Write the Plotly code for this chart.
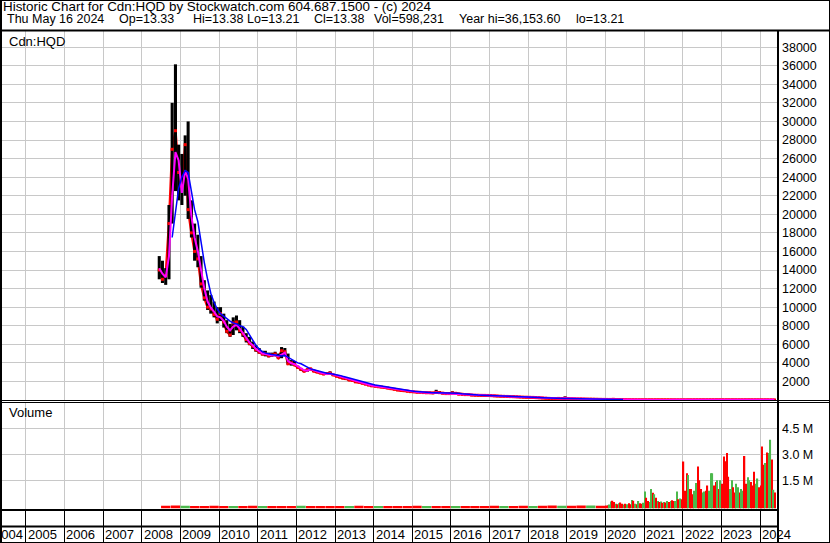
import pandas as pd
import plotly.graph_objects as go

W, H = 830, 543
FONT = "Liberation Sans, Arial, sans-serif"

# ---- monthly price bars, Jun 2008 .. May 2024 ----
high = (
    [15500, 15000, 14200, 21000, 32000, 36150, 27500]  # 2008
    + [26500, 28500, 30000, 21500, 19000, 17800, 15500, 12900, 11800, 11300, 10600, 10000]
    + [10000, 9300, 8600, 8200, 8900, 9100, 8600, 7900, 7200, 6800, 6300, 5900]
    + [5600, 5300, 5300, 5100, 5100, 5200, 5000, 5700, 5600, 5000, 4300, 4200]
    + [3700, 3400, 3200, 3400, 3450, 3250, 3080, 2960, 2870, 2930, 3080, 2800]
    + [2620, 2500, 2400, 2380, 2260, 2160, 2020, 1950, 1860, 1760, 1650, 1570]
    + [1520, 1470, 1440, 1390, 1340, 1260, 1190, 1110, 1060, 1060, 970, 930]
    + [910, 870, 850, 820, 800, 800, 780, 1100, 880, 770, 710, 710]
    + [930, 850, 660, 615, 595, 620, 550, 525, 520, 510, 510, 500]
    + [490, 465, 440, 420, 405, 395, 375, 362, 352, 335, 318, 306]
    + [298, 300, 275, 258, 235, 205, 182, 162, 150, 200, 180, 390]
    + [165, 135, 120, 110, 122, 108, 97, 102, 95, 88, 77, 70]
    + [68, 70, 95, 75, 52, 44, 38, 31, 33, 30, 25, 22]
    + [21, 20, 19, 18, 17, 16, 15, 14, 15, 14, 12, 12]
    + [14, 16, 16, 19, 22, 21, 19, 19, 23, 23, 21, 21]
    + [23, 22, 21, 19, 18, 17, 17, 18, 18, 19, 18, 16]
    + [16, 15.5, 15, 15, 14.2]  # 2024
)
low = (
    [13000, 12600, 12400, 13000, 19000, 22500, 21500]
    + [21000, 22000, 19500, 17500, 15000, 14300, 12100, 10700, 9700, 9300, 8900, 8250]
    + [8500, 7800, 7200, 6800, 7000, 7500, 7200, 6800, 6200, 5900, 5500, 5200]
    + [5000, 4800, 4700, 4600, 4650, 4700, 4450, 4500, 4700, 3800, 3700, 3650]
    + [3400, 3230, 3050, 3050, 3200, 3050, 2950, 2850, 2760, 2760, 2800, 2650]
    + [2520, 2420, 2320, 2260, 2120, 2060, 1920, 1870, 1770, 1670, 1570, 1500]
    + [1460, 1410, 1380, 1330, 1280, 1200, 1130, 1050, 1000, 980, 920, 880]
    + [860, 825, 815, 785, 765, 765, 745, 750, 770, 705, 675, 675]
    + [700, 680, 605, 590, 570, 565, 520, 508, 502, 492, 486, 482]
    + [472, 448, 424, 404, 388, 378, 358, 348, 338, 318, 304, 294]
    + [284, 272, 258, 243, 218, 188, 168, 150, 140, 148, 152, 165]
    + [142, 120, 110, 100, 106, 96, 89, 90, 86, 78, 69, 63]
    + [58, 55, 58, 50, 42, 36, 29, 25, 26, 23, 20, 18]
    + [18, 17, 16, 16, 15, 14, 13, 12, 12, 11, 10, 10]
    + [11, 13, 13, 14, 17, 17, 16, 16, 17, 19, 18, 18]
    + [20, 19, 18, 17, 16, 15, 15, 16, 16, 16, 15, 14]
    + [14.3, 13.9, 13.5, 13.6, 13.21]
)
close = (
    [14000, 13000, 13400, 19000, 27000, 29000, 24500]
    + [23000, 27500, 20500, 18000, 16000, 15200, 12500, 11000, 10000, 9800, 9200, 8700]
    + [9300, 8400, 7400, 7000, 8300, 8400, 7500, 7100, 6500, 6100, 5800, 5400]
    + [5150, 4950, 4950, 4750, 4850, 4950, 4550, 5300, 5200, 3900, 4000, 3800]
    + [3500, 3300, 3100, 3250, 3350, 3100, 3000, 2900, 2800, 2850, 2900, 2700]
    + [2550, 2450, 2350, 2300, 2150, 2100, 1950, 1900, 1800, 1700, 1600, 1520]
    + [1480, 1430, 1400, 1350, 1300, 1220, 1150, 1070, 1020, 1000, 940, 900]
    + [880, 840, 830, 800, 780, 780, 760, 820, 790, 720, 690, 690]
    + [760, 720, 620, 600, 580, 580, 530, 515, 510, 500, 495, 490]
    + [480, 455, 430, 410, 395, 385, 365, 355, 345, 325, 310, 300]
    + [290, 280, 265, 250, 225, 195, 175, 155, 145, 170, 160, 190]
    + [150, 125, 115, 105, 115, 100, 92, 96, 90, 82, 72, 66]
    + [62, 60, 75, 55, 45, 40, 33, 27, 29, 26, 22, 20]
    + [19, 18, 17, 17, 16, 15, 14, 13, 14, 12, 11, 11]
    + [13, 15, 14, 18, 20, 19, 17, 17, 22, 21, 19, 20]
    + [22, 21, 19, 18, 17, 16, 16, 17, 17, 18, 16, 15]
    + [15, 14.5, 14, 14.5, 13.38]
)
ma_short = (
    [14200, 13600, 13200, 15500, 22000, 26700, 25800]
    + [22300, 24700, 23800, 19800, 17500, 16000, 14000, 12000, 10600, 9950, 9500, 9000]
    + [8900, 8500, 7900, 7500, 7900, 8100, 7700, 7200, 6600, 6200, 5900, 5500]
    + [5250, 5000, 4950, 4850, 4800, 4850, 4700, 4900, 5100, 4200, 3950, 3850]
    + [3600, 3400, 3200, 3150, 3300, 3200, 3050, 2950, 2850, 2800, 2850, 2750]
    + [2600, 2500, 2400, 2320, 2220, 2120, 2020, 1920, 1850, 1750, 1650, 1560]
    + [1500, 1450, 1410, 1370, 1320, 1250, 1180, 1100, 1040, 1010, 960, 920]
    + [890, 850, 835, 810, 790, 785, 765, 800, 800, 740, 700, 695]
    + [730, 730, 650, 610, 590, 585, 545, 520, 512, 505, 498, 492]
    + [485, 462, 440, 418, 400, 388, 370, 358, 348, 330, 315, 305]
    + [295, 285, 270, 255, 232, 205, 182, 162, 150, 162, 162, 180]
    + [160, 132, 118, 108, 112, 103, 94, 95, 91, 84, 74, 67]
    + [64, 61, 70, 60, 48, 42, 35, 29, 29, 27, 23, 21]
    + [19, 18, 17, 17, 16, 15, 14, 13, 14, 12, 11, 11]
    + [13, 14, 14, 17, 19, 19, 17, 17, 21, 21, 19, 20]
    + [22, 21, 19, 18, 17, 16, 16, 17, 17, 18, 16, 15]
    + [15, 14.5, 14, 14.5, 13.5]
)
ma_long = (
    [None, None, None, None, 17500, 20500, 22800]
    + [24000, 24700, 24500, 22500, 20500, 19200, 17000, 14800, 13000, 11500, 10500, 9800]
    + [9300, 9000, 8800, 8500, 8300, 8200, 8000, 7900, 7600, 7000, 6400, 5900]
    + [5500, 5200, 5050, 4950, 4900, 4850, 4800, 4750, 4800, 4600, 4450, 4200]
    + [4000, 3900, 3700, 3500, 3350, 3250, 3150, 3050, 2950, 2880, 2850, 2800]
    + [2750, 2650, 2550, 2450, 2380, 2300, 2200, 2100, 2000, 1900, 1800, 1700]
    + [1620, 1560, 1500, 1450, 1400, 1350, 1290, 1220, 1150, 1090, 1040, 990]
    + [950, 910, 870, 840, 820, 800, 790, 790, 790, 770, 740, 720]
    + [720, 740, 720, 680, 640, 610, 580, 560, 540, 520, 510, 500]
    + [495, 480, 460, 440, 420, 405, 390, 375, 360, 345, 330, 318]
    + [308, 298, 285, 272, 255, 235, 212, 190, 172, 165, 163, 170]
    + [172, 160, 140, 125, 115, 108, 102, 98, 95, 90, 82, 74]
    + [70, 65, 66, 63, 56, 48, None, None, None, None, None, None]
    + [None] * 41
)

# ---- volume (millions): quarterly 2008Q3..2019Q4, semi-monthly 2020..May 2024 ----
vol_early = [0.03, 0.04, 0.03, 0.02, 0.02, 0.03, 0.02, 0.02, 0.02, 0.03,
             0.02, 0.02, 0.02, 0.02, 0.03, 0.02, 0.02, 0.02, 0.02, 0.02,
             0.03, 0.02, 0.02, 0.02, 0.02, 0.02, 0.03, 0.02, 0.02, 0.02,
             0.02, 0.02, 0.02, 0.02, 0.03, 0.02, 0.02, 0.03, 0.02, 0.03,
             0.04, 0.03, 0.03, 0.04, 0.04, 0.03]
dir_early = "ddud dddu ddud ddud dddu ddud dddu ddud dddu ddud dudd ud"

vol_recent = (
    [0.05, 0.06, 0.10, 0.28, 0.32, 0.25, 0.15, 0.12, 0.18, 0.22, 0.14, 0.10,
     0.15, 0.12, 0.18, 0.12, 0.37, 0.32, 0.15, 0.12, 0.30, 0.18, 0.15, 0.20]  # 2020
    + [0.85, 0.50, 0.30, 0.25, 1.00, 0.78, 0.70, 0.50, 0.30, 0.25, 0.28, 0.20,
       0.25, 0.22, 0.30, 0.25, 0.30, 0.35, 0.30, 0.30, 0.85, 0.40, 0.45, 0.40]  # 2021
    + [2.58, 0.90, 1.90, 1.80, 1.00, 1.00, 0.70, 0.90, 1.35, 2.30, 1.50, 1.00,
       0.80, 0.85, 0.90, 1.20, 0.90, 1.90, 1.90, 1.20, 1.40, 1.50, 1.00, 1.50]  # 2022
    + [1.30, 2.87, 2.60, 3.07, 1.70, 1.00, 1.50, 1.10, 0.80, 1.30, 1.10, 0.80,
       1.00, 0.90, 2.90, 1.30, 1.68, 1.50, 1.40, 1.20, 2.00, 1.30, 1.60, 1.10]  # 2023
    + [1.20, 3.45, 2.40, 2.50, 3.10, 3.07, 3.84, 2.70, 0.95, 0.80]  # 2024
)
dir_recent = ("dduu ddud uddu dudd udud uddu"
              "uddu udud udud udud uddu udud"
              "dddu dddu uddd uudd uuud dudu"
              "dddd duud duud uudd uudd duud"
              "dddu duud ud")

price_ticks = list(range(2000, 38001, 2000))
vol_ticks = [1.5e6, 3.0e6, 4.5e6]
vol_tick_text = ["1.5 M", "3.0 M", "4.5 M"]
years = list(range(2004, 2025))

months = pd.date_range("2008-06-01", periods=len(close), freq="MS") + pd.Timedelta(days=14)
q_dates = pd.date_range("2008-07-01", periods=len(vol_early), freq="QS") + pd.Timedelta(days=45)
sm_dates = pd.date_range("2020-01-01", periods=len(vol_recent), freq="SMS") + pd.Timedelta(days=7)

DAY = 86400000
GREEN, RED = "#4cb84c", "#ff0000"
col = {"u": GREEN, "d": RED}
VBASE = -0.11e6  # bars stand on the panel floor


def px_y(p):
    return 1 - p / H


def px_x(p):
    return p / W


fig = go.Figure()

# price high-low bars
fig.add_trace(go.Bar(
    x=months, y=[h - l for h, l in zip(high, low)], base=low,
    width=29 * DAY, marker=dict(color="black", line=dict(width=0)),
    xaxis="x", yaxis="y", zorder=0))
# close line and ticks
fig.add_trace(go.Scatter(
    x=months, y=close, mode="lines", line=dict(color=RED, width=2.5),
    xaxis="x", yaxis="y", zorder=-1))
fig.add_trace(go.Scatter(
    x=months, y=close, mode="markers",
    marker=dict(symbol="square", size=3, color=RED, line=dict(width=0)),
    xaxis="x", yaxis="y", zorder=1))
fig.add_trace(go.Scatter(
    x=months, y=ma_short, mode="lines", line=dict(color="#ff00ff", width=2),
    xaxis="x", yaxis="y", zorder=2))
fig.add_trace(go.Scatter(
    x=months, y=ma_long, mode="lines", line=dict(color="#0000ff", width=1.5),
    connectgaps=False, xaxis="x", yaxis="y", zorder=3))

# volume
d_early = dir_early.replace(" ", "")
d_recent = dir_recent.replace(" ", "")
fig.add_trace(go.Bar(
    x=q_dates, y=[v * 1e6 - VBASE for v in vol_early], base=VBASE,
    width=88 * DAY, marker=dict(color=[col[c] for c in d_early], line=dict(width=0)),
    xaxis="x2", yaxis="y2"))
fig.add_trace(go.Bar(
    x=sm_dates, y=[v * 1e6 - VBASE for v in vol_recent], base=VBASE,
    width=12 * DAY, marker=dict(color=[col[c] for c in d_recent], line=dict(width=0)),
    xaxis="x2", yaxis="y2"))

grid = "#c8c8c8"
xcommon = dict(
    type="date", range=["2004-05-02", "2024-06-09"], domain=[0, px_x(777)],
    showgrid=True, gridcolor=grid, gridwidth=1, dtick="M12", tick0="2005-01-01",
    showticklabels=False, zeroline=False, showline=False, fixedrange=True)
tickfont = dict(family=FONT, size=12.5, color="black")

fig.update_layout(
    width=W, height=H, margin=dict(l=0, r=0, t=0, b=0),
    paper_bgcolor="white", plot_bgcolor="white", showlegend=False,
    barmode="overlay",
    xaxis=dict(**xcommon, anchor="y", ticks=""),
    xaxis2=dict(**xcommon, anchor="y2", matches="x",
                ticks="outside", ticklen=33, tickwidth=1, tickcolor="black"),
    yaxis=dict(domain=[px_y(400), px_y(31)], range=[0, 39740], side="right",
               tickvals=price_ticks, ticktext=[str(v) for v in price_ticks],
               tickfont=tickfont, showgrid=True, gridcolor=grid, gridwidth=1,
               zeroline=False, ticks="", ticklabelstandoff=4, anchor="x"),
    yaxis2=dict(domain=[px_y(509.5), px_y(403)], range=[-0.185e6, 5.96e6], side="right",
                tickvals=vol_ticks, ticktext=vol_tick_text, tickfont=tickfont,
                showgrid=True, gridcolor=grid, gridwidth=1,
                zeroline=False, ticks="", ticklabelstandoff=4, anchor="x2"),
)

# frame lines
def hline(y, x0, x1, w):
    fig.add_shape(type="line", xref="paper", yref="paper",
                  x0=px_x(x0), x1=px_x(x1), y0=px_y(y), y1=px_y(y),
                  line=dict(color="black", width=w))


def vline(x, y0, y1, w):
    fig.add_shape(type="line", xref="paper", yref="paper",
                  x0=px_x(x), x1=px_x(x), y0=px_y(y0), y1=px_y(y1),
                  line=dict(color="black", width=w))


hline(0.5, 0, W, 1)
hline(30.5, 0, W, 2)
hline(400.5, 0, W, 1)
hline(402.5, 0, W, 1)
hline(510, 0, 778, 2)
hline(526.5, 0, 778, 2)
hline(542.5, 0, W, 1)
vline(1, 0, H, 2)
vline(829.5, 0, H, 1)
vline(778, 31, H, 2)

# header text
fig.add_annotation(text="Historic Chart for Cdn:HQD by Stockwatch.com 604.687.1500 - (c) 2024",
                   xref="paper", yref="paper", x=px_x(1), y=px_y(7),
                   xanchor="left", yanchor="middle", showarrow=False,
                   font=dict(family=FONT, size=13.4, color="black"))
hdr = dict(family=FONT, size=12.5, color="black")
for txt, xp in [("Thu May 16 2024", 5), ("Op=13.33", 117), ("Hi=13.38", 191),
                ("Lo=13.21", 245), ("Cl=13.38", 312), ("Vol=598,231", 372),
                ("Year hi=36,153.60", 457), ("lo=13.21", 574)]:
    fig.add_annotation(text=txt, xref="paper", yref="paper", x=px_x(xp), y=px_y(19.5),
                       xanchor="left", yanchor="middle", showarrow=False, font=hdr)

lab = dict(family=FONT, size=13, color="black")
fig.add_annotation(text="Cdn:HQD", xref="paper", yref="paper", x=px_x(7), y=px_y(41.5),
                   xanchor="left", yanchor="middle", showarrow=False, font=lab)
fig.add_annotation(text="Volume", xref="paper", yref="paper", x=px_x(7), y=px_y(413),
                   xanchor="left", yanchor="middle", showarrow=False, font=lab)

# year labels under the volume panel
for yr in years:
    if yr == 2004:
        fig.add_annotation(text=str(yr), xref="x2", yref="paper", x="2005-01-01",
                           y=px_y(534.5), xanchor="right", yanchor="middle",
                           xshift=-1, showarrow=False, font=lab)
    else:
        fig.add_annotation(text=str(yr), xref="x2", yref="paper", x=f"{yr}-01-01",
                           y=px_y(534.5), xanchor="left", yanchor="middle",
                           xshift=0, showarrow=False, font=lab)

fig.write_html("out.html", config={"displayModeBar": False},
               post_script="document.body.style.margin='0';"
                           "document.body.style.overflow='hidden';")
